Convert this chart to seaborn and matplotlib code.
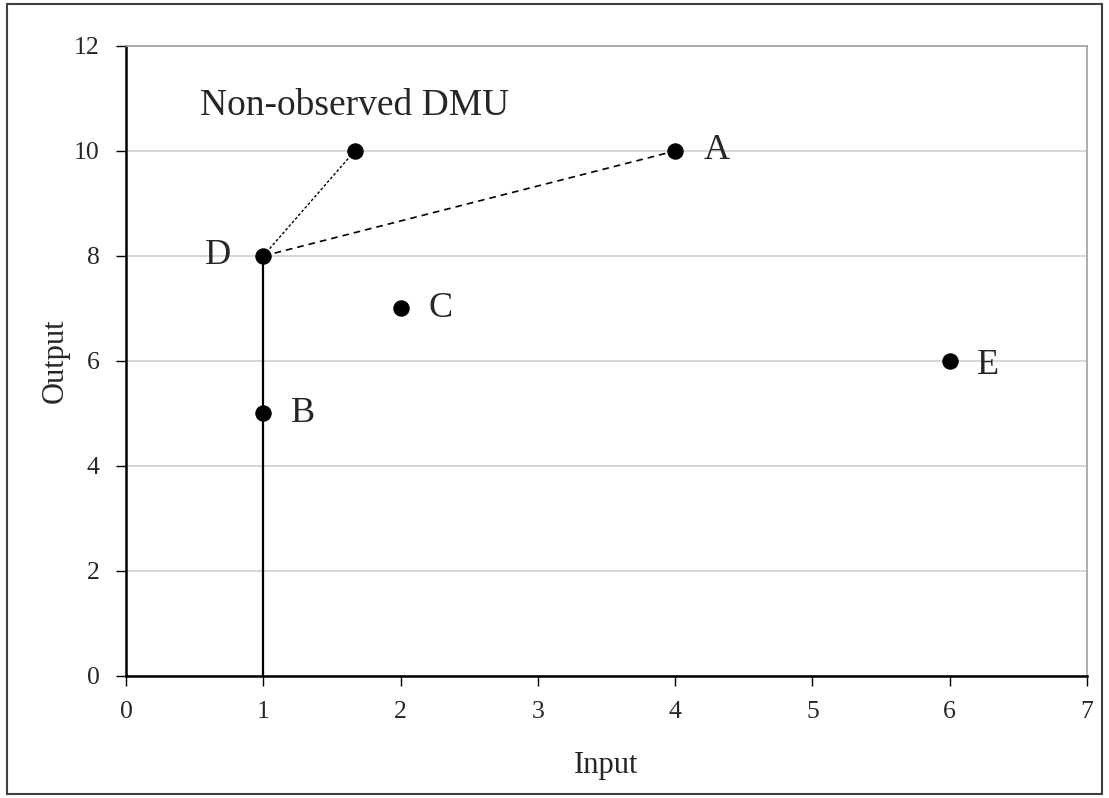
import matplotlib
matplotlib.use('Agg')
import matplotlib.pyplot as plt
import seaborn as sns
import pandas as pd
from matplotlib.patches import Rectangle

# Données
names = ['A', 'B', 'C', 'D', 'E']
inputs = [4, 1, 2, 1, 6]
outputs = [10, 5, 7, 8, 6]
virtual_x = [5 / 3]
virtual_y = [10]
virtual_label = 'Non-observed DMU'

df = pd.DataFrame({'Input': inputs, 'Output': outputs, 'name': names})

sns.set_style('white')
plt.rcParams['font.family'] = ['Liberation Serif', 'DejaVu Serif']

fig = plt.figure(figsize=(11.09, 7.98), dpi=100)
ax = fig.add_axes([0.1136, 0.1529, 0.8666, 0.7895])

# grille horizontale
ax.set_axisbelow(True)
ax.yaxis.grid(True, color='#d0d0d0', linewidth=1.2)
ax.xaxis.grid(False)

# frontière : segment vertical de (1,0) à D
d_x, d_y = inputs[3], outputs[3]
ax.plot([d_x, d_x], [0, d_y], color='black', linewidth=1.6, zorder=2)
# D -> DMU non observée (pointillé)
ax.plot([d_x, virtual_x[0]], [d_y, virtual_y[0]], color='black', linewidth=1, linestyle=(0, (2, 1.5)), zorder=2)
# D -> A (tirets)
ax.plot([d_x, inputs[0]], [d_y, outputs[0]], color='black', linewidth=1.2, linestyle=(0, (4, 3)), zorder=2)

sns.scatterplot(x='Input', y='Output', data=df, color='black', s=120, edgecolor='black', zorder=3, ax=ax)
sns.scatterplot(x=virtual_x, y=virtual_y, color='black', s=120, edgecolor='black', zorder=3, ax=ax)

# étiquettes des points
offsets = {'A': (0.3, 0.0), 'B': (0.29, 0.0), 'C': (0.29, 0.0), 'D': (-0.33, 0.0), 'E': (0.28, -0.08)}
for n, x, y in zip(names, inputs, outputs):
    dx, dy = offsets[n]
    ax.text(x + dx, y + dy, n, fontsize=26, ha='center', va='center')
ax.text(virtual_x[0], virtual_y[0] + 0.86, virtual_label, fontsize=27, ha='center', va='center')

ax.set_xlim(0, 7)
ax.set_ylim(0, 12)
ax.set_xticks(range(0, 8))
ax.set_yticks(range(0, 13, 2))
ax.tick_params(axis='both', labelsize=18.5, length=7, width=1, color='black', direction='out', bottom=True, left=True)
ax.tick_params(axis='x', pad=11)
ax.tick_params(axis='y', pad=12)
ax.set_xlabel('Input', fontsize=22, labelpad=20)
ax.set_ylabel('Output', fontsize=22, labelpad=3)

for side in ['left', 'bottom']:
    ax.spines[side].set_color('black')
    ax.spines[side].set_linewidth(1.8)
for side in ['top', 'right']:
    ax.spines[side].set_color('#a0a0a0')
    ax.spines[side].set_linewidth(1.2)

# cadre extérieur
fig.patches.append(Rectangle((0.006, 0.005), 0.988, 0.99, transform=fig.transFigure,
                             fill=False, edgecolor='#404040', linewidth=1.5))

fig.savefig('out.png', dpi=100)
